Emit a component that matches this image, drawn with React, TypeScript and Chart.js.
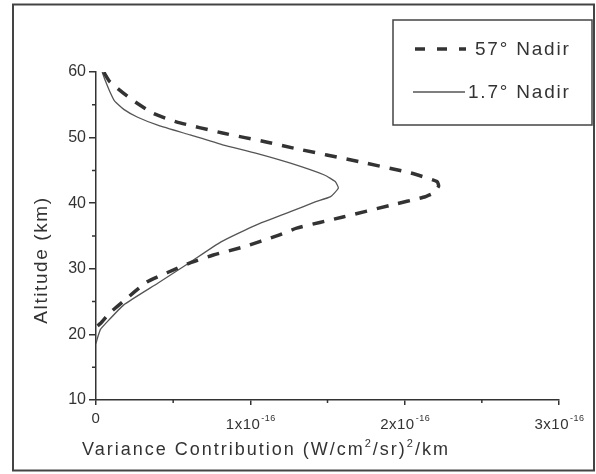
import React, { useEffect, useRef } from "react";
import { Chart, registerables } from "chart.js";

Chart.register(...registerables);

// ---- Data (x in units of 1e-16 (W/cm^2/sr)^2/km, y in km) ----
const nadir57Var = [0.01, 0.03, 0.09, 0.20, 0.33, 0.46, 0.61, 0.76, 0.95, 1.18, 1.30, 1.60, 1.91, 2.12, 2.19, 2.22, 2.21, 2.04, 1.71, 1.28, 1.11, 0.82, 0.52, 0.37, 0.22, 0.09, 0.05];
const nadir57Alt = [21.3, 21.7, 23.3, 25.5, 28.0, 29.4, 30.9, 32.1, 33.3, 35.1, 36.2, 37.9, 39.7, 40.9, 41.6, 42.6, 43.3, 44.6, 46.3, 48.4, 49.3, 50.7, 52.4, 53.7, 56.0, 58.5, 60.0];

const nadir17Var = [0.00, 0.01, 0.03, 0.06, 0.18, 0.40, 0.61, 0.81, 1.04, 1.26, 1.42, 1.52, 1.57, 1.55, 1.48, 1.26, 1.04, 0.82, 0.61, 0.40, 0.27, 0.18, 0.12, 0.09, 0.06, 0.04];
const nadir17Alt = [18.6, 19.5, 20.8, 21.6, 24.5, 27.8, 31.0, 34.1, 36.7, 38.7, 40.2, 41.0, 42.3, 43.3, 44.3, 46.1, 47.6, 48.9, 50.4, 51.9, 53.1, 54.3, 55.6, 57.0, 58.7, 60.0];

const seriesLabels = ["57° Nadir", "1.7° Nadir"];
const xTickValues = [0, 1, 2, 3];
const xTickMantissa = ["0", "1x10", "2x10", "3x10"];
const xTickExponent = "-16";
const xMinorTicks = [0.5, 1.5, 2.5];
const yMinorTicks = [15, 25, 35, 45, 55];
const yTitle = "Altitude (km)";
const xTitleRuns = [
  { text: "Variance Contribution (W/cm", sup: false },
  { text: "2", sup: true },
  { text: "/sr)", sup: false },
  { text: "2", sup: true },
  { text: "/km", sup: false },
];

const FONT = '"Liberation Sans", Arial, sans-serif';
const INK = "#333333";

function toPoints(xs: number[], ys: number[]) {
  return xs.map((x, i) => ({ x, y: ys[i] }));
}

const decorPlugin = {
  id: "decor",
  afterDraw(chart: any) {
    const ctx = chart.ctx as CanvasRenderingContext2D;
    const xs = chart.scales.x;
    const ys = chart.scales.y;
    const W = chart.width;
    const H = chart.height;
    ctx.save();

    // outer frame
    ctx.strokeStyle = "#444";
    ctx.lineWidth = 2;
    ctx.strokeRect(13, 4.5, W - 15, H - 8);

    // minor ticks
    ctx.strokeStyle = INK;
    ctx.lineWidth = 1.5;
    ctx.beginPath();
    for (const v of yMinorTicks) {
      const py = ys.getPixelForValue(v);
      ctx.moveTo(xs.left - 4, py);
      ctx.lineTo(xs.left, py);
    }
    for (const v of xMinorTicks) {
      const px = xs.getPixelForValue(v);
      ctx.moveTo(px, ys.bottom);
      ctx.lineTo(px, ys.bottom + 3);
    }
    ctx.stroke();

    // x tick labels with superscript exponent
    ctx.fillStyle = INK;
    ctx.textBaseline = "alphabetic";
    ctx.textAlign = "left";
    (ctx as any).letterSpacing = "0.5px";
    const axisY = ys.bottom;
    xTickValues.forEach((v, i) => {
      const px = xs.getPixelForValue(v);
      const m = xTickMantissa[i];
      if (m === "0") {
        ctx.font = `15px ${FONT}`;
        const w = ctx.measureText(m).width;
        ctx.fillText(m, px - w / 2, axisY + 23);
      } else {
        ctx.font = `15px ${FONT}`;
        const wb = ctx.measureText(m).width;
        ctx.font = `9px ${FONT}`;
        const we = ctx.measureText(xTickExponent).width;
        const start = px - (wb + we) / 2;
        ctx.font = `15px ${FONT}`;
        ctx.fillText(m, start, axisY + 29);
        ctx.font = `9px ${FONT}`;
        ctx.fillText(xTickExponent, start + wb + 1, axisY + 21);
      }
    });

    // x axis title
    (ctx as any).letterSpacing = "2px";
    let tx = 82;
    const tby = 455;
    for (const r of xTitleRuns) {
      ctx.font = r.sup ? `11px ${FONT}` : `18px ${FONT}`;
      ctx.fillText(r.text, tx, r.sup ? tby - 8 : tby);
      tx += ctx.measureText(r.text).width;
    }

    // y axis title
    ctx.save();
    ctx.translate(47, 260);
    ctx.rotate(-Math.PI / 2);
    ctx.font = `19px ${FONT}`;
    (ctx as any).letterSpacing = "1.6px";
    const yw = ctx.measureText(yTitle).width;
    ctx.fillText(yTitle, -yw / 2, 0);
    ctx.restore();

    // legend
    ctx.strokeStyle = "#444";
    ctx.lineWidth = 1.5;
    ctx.strokeRect(393, 20, 199, 105);
    ctx.strokeStyle = INK;
    ctx.lineWidth = 3.5;
    ctx.setLineDash([10, 12]);
    ctx.beginPath();
    ctx.moveTo(415, 49);
    ctx.lineTo(466, 49);
    ctx.stroke();
    ctx.setLineDash([]);
    ctx.strokeStyle = "#555";
    ctx.lineWidth = 1.3;
    ctx.beginPath();
    ctx.moveTo(413, 92);
    ctx.lineTo(465, 92);
    ctx.stroke();
    ctx.font = `19px ${FONT}`;
    (ctx as any).letterSpacing = "1.8px";
    ctx.fillStyle = INK;
    ctx.fillText(seriesLabels[0], 475, 55);
    ctx.fillText(seriesLabels[1], 468, 98);

    ctx.restore();
  },
};

export default function App() {
  const ref = useRef<HTMLCanvasElement | null>(null);
  useEffect(() => {
    if (!ref.current) return;
    const chart = new Chart(ref.current, {
      type: "scatter",
      data: {
        datasets: [
          {
            label: seriesLabels[0],
            data: toPoints(nadir57Var, nadir57Alt),
            showLine: true,
            borderColor: INK,
            borderWidth: 3.5,
            borderDash: [12, 10],
            pointRadius: 0,
            tension: 0.15,
            fill: false,
          },
          {
            label: seriesLabels[1],
            data: toPoints(nadir17Var, nadir17Alt),
            showLine: true,
            borderColor: "#555555",
            borderWidth: 1.3,
            pointRadius: 0,
            tension: 0.15,
            fill: false,
          },
        ],
      },
      options: {
        responsive: false,
        animation: false,
        devicePixelRatio: 1,
        layout: { padding: { left: 0, top: 72, right: 37, bottom: 0 } },
        plugins: { legend: { display: false }, tooltip: { enabled: false } },
        scales: {
          x: {
            type: "linear",
            min: 0,
            max: 3,
            afterFit: (s: any) => {
              s.height = 74;
            },
            ticks: { stepSize: 1, display: false },
            grid: {
              display: true,
              drawOnChartArea: false,
              drawTicks: true,
              tickLength: 5,
              color: INK,
              lineWidth: 1.5,
            },
            border: { display: true, color: INK, width: 1.5 },
          },
          y: {
            type: "linear",
            min: 10,
            max: 60,
            afterFit: (s: any) => {
              s.width = 96;
            },
            ticks: {
              stepSize: 10,
              color: INK,
              padding: 3,
              font: { family: FONT, size: 16 },
            },
            grid: {
              display: true,
              drawOnChartArea: false,
              drawTicks: true,
              tickLength: 7,
              color: INK,
              lineWidth: 1.5,
            },
            border: { display: true, color: INK, width: 1.5 },
          },
        },
      },
      plugins: [decorPlugin],
    });
    return () => chart.destroy();
  }, []);
  return (
    <div style={{ position: "fixed", left: 0, top: 0, width: 596, height: 474, background: "#fff" }}>
      <canvas ref={ref} width={596} height={474} style={{ width: 596, height: 474, display: "block" }} />
    </div>
  );
}
